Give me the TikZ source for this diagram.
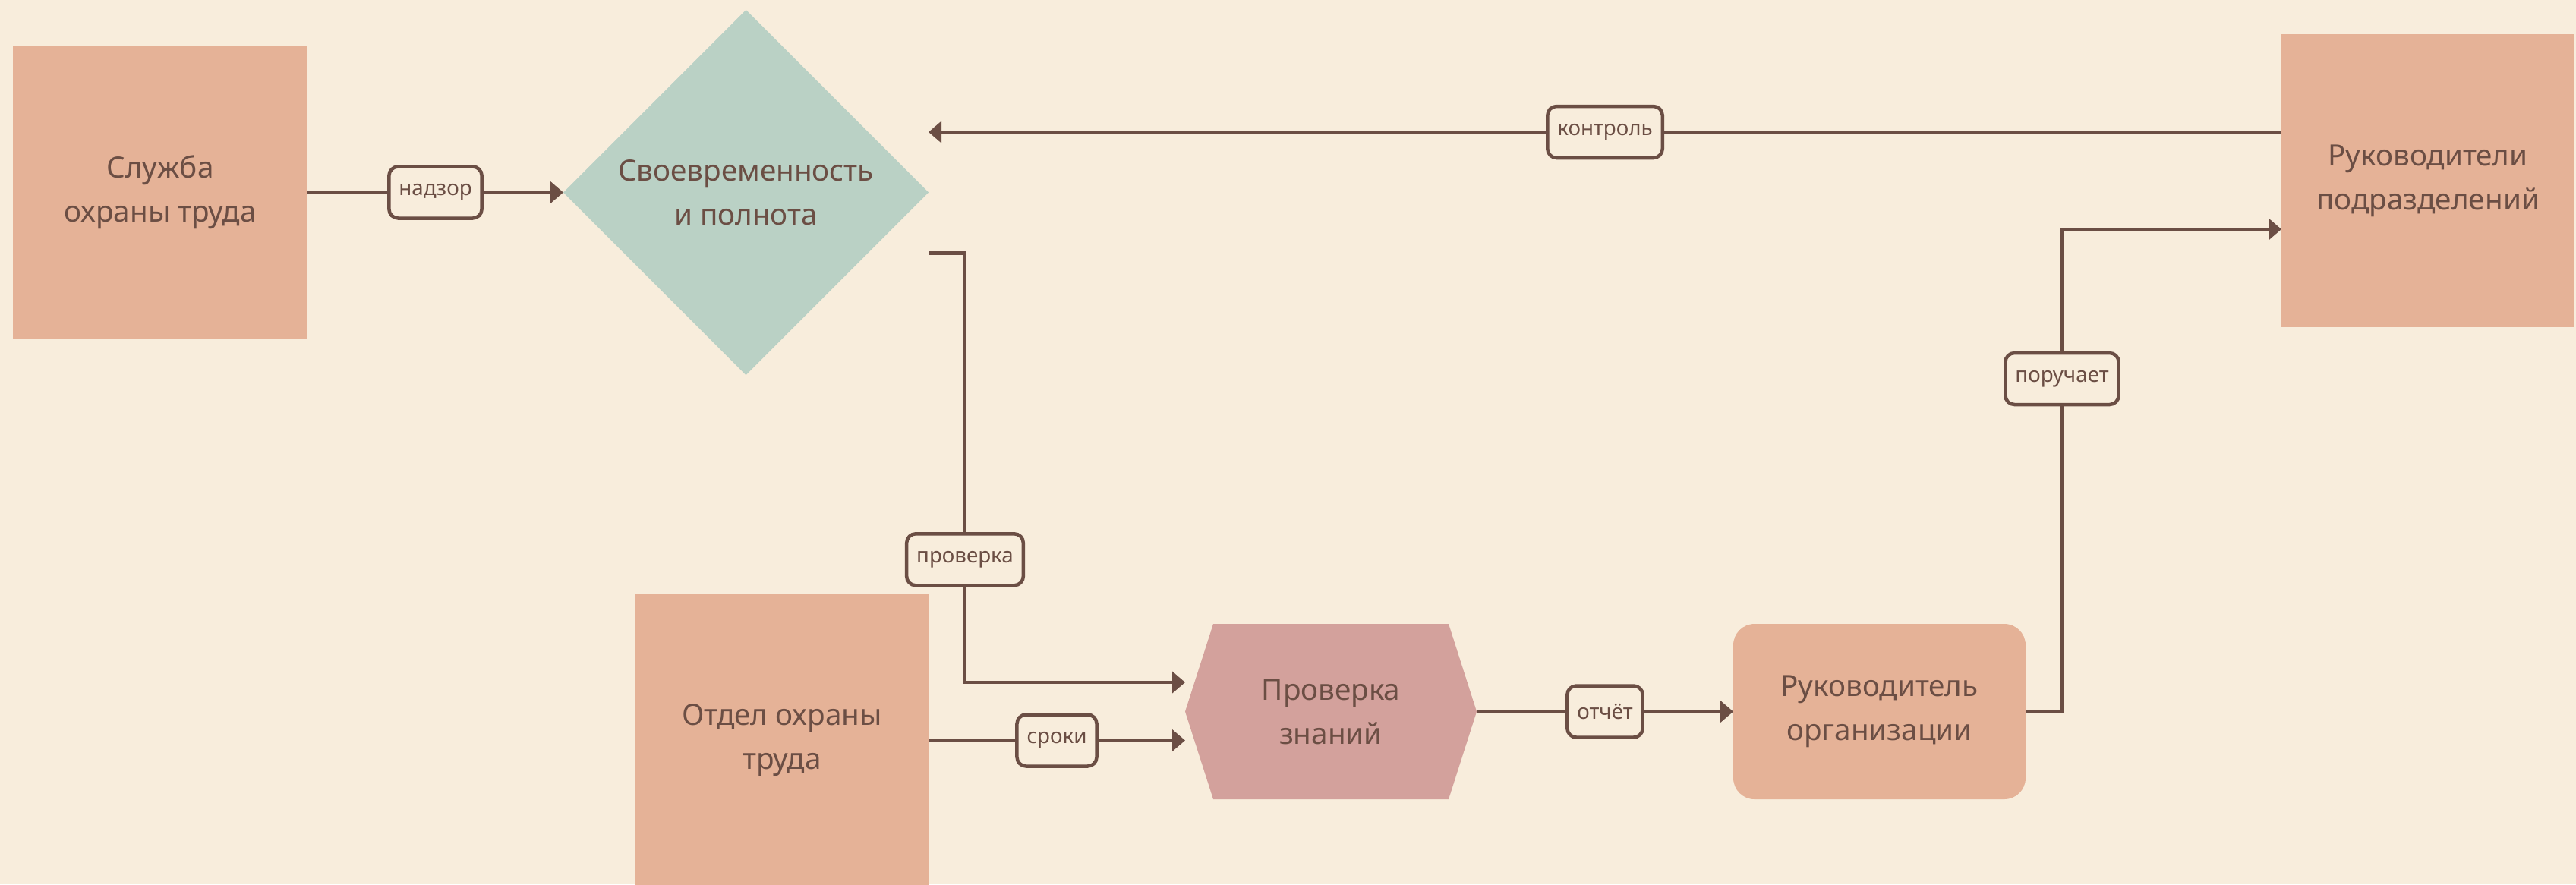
\documentclass[tikz,border=0pt]{standalone}
\usepackage{fontspec}
\setmainfont{Noto Sans}
\usetikzlibrary{positioning}
\usetikzlibrary{shapes.geometric}
\usetikzlibrary{arrows.meta}
\usetikzlibrary{backgrounds}
\definecolor{bg}{HTML}{F8EDDC}
\definecolor{ink}{HTML}{6B4E44}
\definecolor{peach}{HTML}{E5B297}
\definecolor{sage}{HTML}{BAD1C5}
\definecolor{rose}{HTML}{D3A19C}

\begin{document}
\begin{tikzpicture}[
    box/.style={fill=peach, text=ink, align=center, inner sep=0pt, outer sep=0pt,
      font=\fontsize{11}{16.5}\selectfont},
    lbl/.style={draw=ink, line width=0.045cm, fill=bg, text=ink, rounded corners=0.12cm,
      minimum height=0.68cm, inner xsep=0.13cm, inner ysep=0pt,
      font=\fontsize{7.9}{9}\selectfont},
    conn/.style={draw=ink, line width=0.042cm, -{Triangle[length=0.17cm,width=0.28cm]}}
  ]
          \useasboundingbox (0,0) rectangle (33.93,-11.65);
          \node[box, minimum width=3.88cm, minimum height=3.85cm] (S) at (2.11,-2.535) {Служба\\охраны труда};
          \node[box, fill=sage, shape=diamond, aspect=1, minimum width=4.81cm, minimum height=4.81cm] (V) at (9.825,-2.535) {Своевременность\\и полнота};
          \node[box, minimum width=3.86cm, minimum height=3.86cm] (R) at (31.98,-2.38) {Руководители\\подразделений};
          \node[box, minimum width=3.86cm, minimum height=3.85cm] (O) at (10.30,-9.755) {Отдел охраны\\труда};
          \node[box, fill=none, minimum width=3.84cm, minimum height=2.31cm] (P) at (17.53,-9.375) {Проверка\\знаний};
          \node[box, rounded corners=0.28cm, minimum width=3.85cm, minimum height=2.31cm] (L) at (24.755,-9.375) {Руководитель\\организации};

          % ports on the box sides
          \coordinate (R1) at ([yshift=0.64cm]R.west);
          \coordinate (R2) at ([yshift=-0.64cm]R.west);
          \coordinate (V1) at ([yshift=-0.8cm]V.east);
          \coordinate (P1) at ([yshift=0.385cm]P.west);

          \draw[conn] (S.east) -- node[lbl] {надзор} (V.west);
          \draw[conn] (R1) -- node[lbl] {контроль} (R1 -| V.east);
          \draw[conn] (V1) -- ++(0.48,0) |- node[lbl, pos=0.357] {проверка} (P1);
          \draw[conn] (O.east) -- node[lbl] {сроки} (O.east -| P.west);
          \draw[conn] (P.east) -- node[lbl] {отчёт} (L.west);
          \draw[conn] (L.east) -- ++(0.48,0) |- node[lbl, pos=0.345] {поручает} (R2);

          \begin{scope}[on background layer]
            \fill[bg] (0,0) rectangle (33.93,-11.65);
            \fill[rose] (P.west) -- ([xshift=0.37cm]P.north west) -- ([xshift=-0.37cm]P.north east)
              -- (P.east) -- ([xshift=-0.37cm]P.south east) -- ([xshift=0.37cm]P.south west) -- cycle;
          \end{scope}
        \end{tikzpicture}
\end{document}
